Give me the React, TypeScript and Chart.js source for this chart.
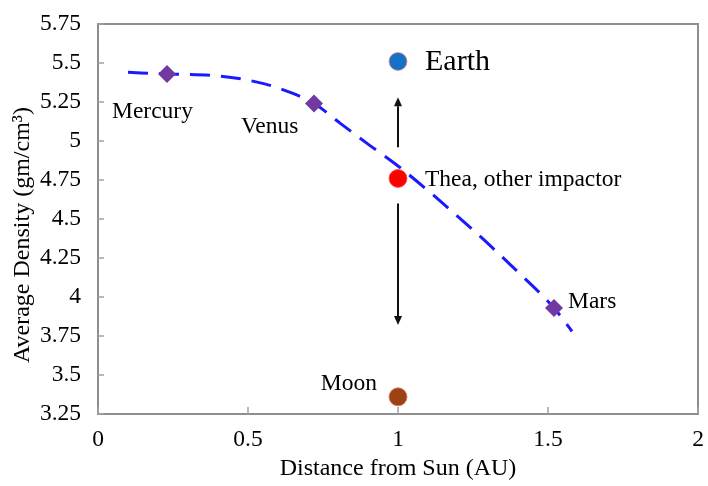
import { useEffect, useRef } from "react";
import { Chart, registerables } from "chart.js";

Chart.register(...registerables);

// ---- data ----
const curveX = [0.1, 0.23, 0.38, 0.5, 0.6, 0.72, 0.81, 0.9, 1.0, 1.25, 1.4, 1.52, 1.58];
const curveY = [5.44, 5.43, 5.42, 5.39, 5.34, 5.24, 5.11, 4.98, 4.84, 4.43, 4.16, 3.93, 3.78];

const planetNames = ["Mercury", "Venus", "Mars"];
const planetX = [0.23, 0.72, 1.52];
const planetY = [5.43, 5.24, 3.93];

const bodyNames = ["Earth", "Thea, other impactor", "Moon"];
const bodyX = [1, 1, 1];
const bodyY = [5.51, 4.76, 3.36];

const arrowX = [1, 1];
const arrowFrom = [4.96, 4.6];
const arrowTo = [5.28, 3.82];

const xTickValues = [0, 0.5, 1, 1.5, 2];
const xTickLabels = ["0", "0.5", "1", "1.5", "2"];
const yTickValues = [3.25, 3.5, 3.75, 4, 4.25, 4.5, 4.75, 5, 5.25, 5.5, 5.75];
const yTickLabels = ["3.25", "3.5", "3.75", "4", "4.25", "4.5", "4.75", "5", "5.25", "5.5", "5.75"];

const xTitle = "Distance from Sun (AU)";
const yTitle = "Average Density (gm/cm\u00B3)";

const SERIF = '"Liberation Serif", "Times New Roman", serif';

// label placement (pixel offsets from each marker), kept separate from data
const planetLabelStyle = [
  { dx: -55, dy: 38, align: "left" },
  { dx: -73, dy: 23, align: "left" },
  { dx: 14, dy: -6, align: "left" },
];
const bodyLabelStyle = [
  { dx: 27, dy: 1, align: "left", size: 30 },
  { dx: 27, dy: 1, align: "left", size: 23.5 },
  { dx: -21, dy: -13, align: "right", size: 23.5 },
];

const overlayPlugin = {
  id: "overlay",
  beforeDatasetsDraw(chart: any) {
    const { ctx, chartArea, scales } = chart;
    const xs = scales.x;
    const ys = scales.y;
    ctx.save();
    // frame
    ctx.strokeStyle = "#8e8e8e";
    ctx.lineWidth = 2;
    ctx.strokeRect(chartArea.left, chartArea.top, chartArea.right - chartArea.left, chartArea.bottom - chartArea.top);
    // inward tick marks
    ctx.strokeStyle = "#a0a0a0";
    ctx.lineWidth = 1.5;
    yTickValues.forEach((v) => {
      const py = ys.getPixelForValue(v);
      ctx.beginPath();
      ctx.moveTo(chartArea.left, py);
      ctx.lineTo(chartArea.left + 6, py);
      ctx.stroke();
    });
    xTickValues.forEach((v) => {
      const px = xs.getPixelForValue(v);
      ctx.beginPath();
      ctx.moveTo(px, chartArea.bottom);
      ctx.lineTo(px, chartArea.bottom - 7);
      ctx.stroke();
    });
    // arrows
    ctx.strokeStyle = "#111";
    ctx.fillStyle = "#111";
    ctx.lineWidth = 2;
    arrowX.forEach((ax, i) => {
      const px = xs.getPixelForValue(ax);
      const y0 = ys.getPixelForValue(arrowFrom[i]);
      const y1 = ys.getPixelForValue(arrowTo[i]);
      const dir = y1 < y0 ? -1 : 1;
      const head = 9;
      ctx.beginPath();
      ctx.moveTo(px, y0);
      ctx.lineTo(px, y1 - dir * head);
      ctx.stroke();
      ctx.beginPath();
      ctx.moveTo(px, y1);
      ctx.lineTo(px - 4, y1 - dir * head);
      ctx.lineTo(px + 4, y1 - dir * head);
      ctx.closePath();
      ctx.fill();
    });
    ctx.restore();
  },
  afterDatasetsDraw(chart: any) {
    const { ctx, chartArea, scales } = chart;
    const xs = scales.x;
    const ys = scales.y;
    ctx.save();
    ctx.fillStyle = "#000";
    ctx.textBaseline = "middle";
    planetNames.forEach((name, i) => {
      const s = planetLabelStyle[i];
      ctx.font = `23.5px ${SERIF}`;
      ctx.textAlign = s.align;
      ctx.fillText(name, xs.getPixelForValue(planetX[i]) + s.dx, ys.getPixelForValue(planetY[i]) + s.dy);
    });
    bodyNames.forEach((name, i) => {
      const s = bodyLabelStyle[i];
      ctx.font = `${s.size}px ${SERIF}`;
      ctx.textAlign = s.align;
      ctx.fillText(name, xs.getPixelForValue(bodyX[i]) + s.dx, ys.getPixelForValue(bodyY[i]) + s.dy);
    });
    // y title
    ctx.translate(23, (chartArea.top + chartArea.bottom) / 2 + 16);
    ctx.rotate(-Math.PI / 2);
    ctx.textAlign = "center";
    ctx.font = `24px ${SERIF}`;
    ctx.fillText(yTitle, 0, 0);
    ctx.restore();
  },
};

export default function App() {
  const ref = useRef<HTMLCanvasElement | null>(null);

  useEffect(() => {
    document.body.style.margin = "0";
    const canvas = ref.current;
    if (!canvas) return;
    const chart = new Chart(canvas, {
      type: "scatter",
      data: {
        datasets: [
          {
            label: "planets",
            data: planetX.map((x, i) => ({ x, y: planetY[i] })),
            pointStyle: "rectRot",
            pointRadius: 9,
            backgroundColor: "#7339a3",
            borderColor: "#7339a3",
            borderWidth: 0,
            order: 0,
          },
          {
            label: "bodies",
            data: bodyX.map((x, i) => ({ x, y: bodyY[i] })),
            pointStyle: "circle",
            pointRadius: 9,
            backgroundColor: ["#1570c8", "#ff0000", "#9a4414"],
            borderColor: ["rgba(235,140,140,0.8)", "rgba(255,80,80,0.8)", "rgba(230,110,90,0.8)"],
            borderWidth: 1,
            order: 0,
          },
          {
            label: "trend",
            data: curveX.map((x, i) => ({ x, y: curveY[i] })),
            showLine: true,
            borderColor: "#1a1aff",
            borderWidth: 3,
            borderDash: [20, 11],
            pointRadius: 0,
            cubicInterpolationMode: "monotone",
            fill: false,
            order: 10,
          },
        ],
      },
      options: {
        animation: false,
        responsive: false,
        maintainAspectRatio: false,
        layout: { padding: { top: 24, right: 10, left: 0, bottom: 0 } },
        plugins: { legend: { display: false }, tooltip: { enabled: false } },
        scales: {
          x: {
            type: "linear",
            min: 0,
            max: 2,
            afterBuildTicks: (scale: any) => {
              scale.ticks = xTickValues.map((v) => ({ value: v }));
            },
            ticks: {
              padding: 12,
              color: "#000",
              font: { family: SERIF, size: 23.5 },
              maxRotation: 0,
              callback: (v: any) => {
                const i = xTickValues.indexOf(Number(v));
                return i >= 0 ? xTickLabels[i] : "";
              },
            },
            grid: { display: false, drawTicks: false },
            border: { display: false },
            title: {
              display: true,
              text: xTitle,
              color: "#000",
              font: { family: SERIF, size: 24 },
              padding: { top: 0, bottom: 3 },
            },
            afterFit: (scale: any) => {
              scale.height = 72;
              scale.paddingLeft = 0;
              scale.paddingRight = 0;
            },
          },
          y: {
            type: "linear",
            min: 3.25,
            max: 5.75,
            afterBuildTicks: (scale: any) => {
              scale.ticks = yTickValues.map((v) => ({ value: v }));
            },
            ticks: {
              padding: 17,
              color: "#000",
              font: { family: SERIF, size: 23.5 },
              callback: (v: any) => {
                const i = yTickValues.indexOf(Number(v));
                return i >= 0 ? yTickLabels[i] : "";
              },
            },
            grid: { display: false, drawTicks: false },
            border: { display: false },
            afterFit: (scale: any) => {
              scale.width = 98;
              scale.paddingTop = 0;
              scale.paddingBottom = 0;
            },
          },
        },
      },
      plugins: [overlayPlugin],
    } as any);
    return () => chart.destroy();
  }, []);

  return (
    <div style={{ position: "absolute", left: 0, top: 0, width: 708, height: 486, background: "#fff" }}>
      <canvas ref={ref} width={708} height={486} style={{ width: 708, height: 486 }} />
    </div>
  );
}
